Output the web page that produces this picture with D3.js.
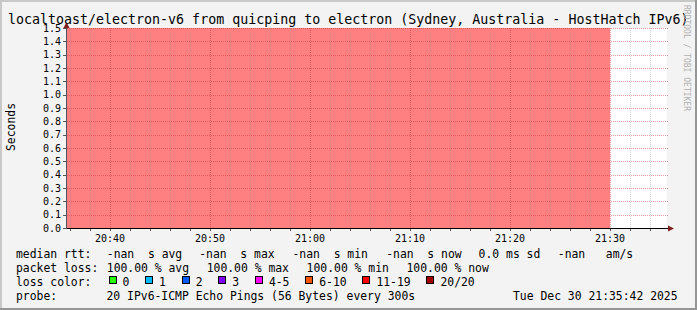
<!DOCTYPE html>
<html>
<head>
<meta charset="utf-8">
<script src="https://cdn.jsdelivr.net/npm/d3@7"></script>
<style>
body { margin: 0; background: #fff; }
text { font-family: "DejaVu Sans Mono", monospace; fill: #000; }
</style>
</head>
<body>
<div class="smoke-plot"></div>
<script>
// chart values
const title = "localtoast/electron-v6 from quicping to electron (Sydney, Australia - HostHatch IPv6)";
const yTitle = "Seconds";
const stepStarts = ["20:35", "20:40", "20:45", "20:50", "20:55", "21:00", "21:05", "21:10", "21:15", "21:20", "21:25"];
const lostPings = [20, 20, 20, 20, 20, 20, 20, 20, 20, 20, 20];
const pingsPerStep = 20;
const yTicks = [0, 0.1, 0.2, 0.3, 0.4, 0.5, 0.6, 0.7, 0.8, 0.9, 1.0, 1.1, 1.2, 1.3, 1.4, 1.5];
const xTickLabels = ["20:40", "20:50", "21:00", "21:10", "21:20", "21:30"];
const rttNames = ["avg", "max", "min", "now"];
const rttValues = ["-nan", "-nan", "-nan", "-nan"];
const rttSd = "0.0";
const rttAmS = "-nan";
const lossNames = ["avg", "max", "min", "now"];
const lossValues = [100.00, 100.00, 100.00, 100.00];
const lossLabels = ["0", "1", "2", "3", "4-5", "6-10", "11-19", "20/20"];
const lossColors = ["#26ff00", "#00b8ff", "#0059ff", "#7e00ff", "#ff00ff", "#ff5500", "#ff0000", "#a10000"];
const probeText = "20 IPv6-ICMP Echo Pings (56 Bytes) every 300s";
const stamp = "Tue Dec 30 21:35:42 2025";
const startTime = "20:35:42", endTime = "21:35:42";

const width = 697;
const height = 310;
const parseHM = d3.timeParse("%H:%M");
const parseHMS = d3.timeParse("%H:%M:%S");

const svg = d3.select('.smoke-plot')
    .append('svg')
    .attr('width', width)
    .attr('height', height);

// background + 3d frame
svg.append('rect').attr('width', width).attr('height', height).attr('fill', '#f3f3f3');
svg.append('path').attr('d', `M0,${height} V0 H${width}`).attr('fill', 'none')
    .attr('stroke', '#c8c8c8').attr('stroke-width', 4);
svg.append('path').attr('d', `M0,${height} H${width} V0`).attr('fill', 'none')
    .attr('stroke', '#969696').attr('stroke-width', 4);

const x = d3.scaleTime()
    .domain([parseHMS(startTime), parseHMS(endTime)])
    .range([67, 667]);
const y = d3.scaleLinear()
    .domain([0, 1.5])
    .range([228, 28]);

const px = v => Math.round(v) + 0.5;

// canvas
svg.append('rect').attr('x', 67).attr('y', 28).attr('width', 600).attr('height', 200).attr('fill', '#fff');

svg.append('clipPath').attr('id', 'plotclip')
    .append('rect').attr('x', 67).attr('y', 28).attr('width', 600).attr('height', 200);

// loss steps
const steps = stepStarts.map(function(s, i) {
    const t0 = parseHM(s);
    return {t0: t0, t1: d3.timeMinute.offset(t0, 5), lost: lostPings[i]};
});
svg.append('g').attr('clip-path', 'url(#plotclip)')
    .selectAll('rect')
    .data(steps.filter(d => d.lost == pingsPerStep))
    .enter()
    .append('rect')
    .attr('x', d => x(d.t0))
    .attr('width', d => x(d.t1) - x(d.t0))
    .attr('y', y(1.5))
    .attr('height', y(0) - y(1.5))
    .attr('fill', '#ff8080')
    .attr('shape-rendering', 'crispEdges');

// grid
const minorTimes = d3.timeMinute.every(2).range(x.domain()[0], x.domain()[1]);
const grid = svg.append('g').attr('stroke-dasharray', '1,1').attr('stroke-width', 1);
grid.selectAll('.minor')
    .data(minorTimes.filter(t => t.getMinutes() % 10 != 0))
    .enter().append('line')
    .attr('x1', d => px(x(d))).attr('x2', d => px(x(d)))
    .attr('y1', 28).attr('y2', 228)
    .attr('stroke', 'rgba(140,140,140,0.4)');
grid.selectAll('.major')
    .data(xTickLabels.map(parseHM))
    .enter().append('line')
    .attr('x1', d => px(x(d))).attr('x2', d => px(x(d)))
    .attr('y1', 28).attr('y2', 228)
    .attr('stroke', 'rgba(200,40,40,0.45)');
grid.selectAll('.hz')
    .data(yTicks.slice(1))
    .enter().append('line')
    .attr('x1', 67).attr('x2', 669)
    .attr('y1', d => px(y(d))).attr('y2', d => px(y(d)))
    .attr('stroke', 'rgba(200,40,40,0.45)');

// axes
svg.append('line').attr('x1', 67).attr('x2', 669).attr('y1', 228.5).attr('y2', 228.5)
    .attr('stroke', '#000');
svg.append('line').attr('x1', 66.5).attr('x2', 66.5).attr('y1', 229).attr('y2', 25)
    .attr('stroke', '#555');
svg.append('path').attr('d', 'M668,225.5 L674,228.5 L668,231.5 Z').attr('fill', '#7f1f1f');
svg.append('path').attr('d', 'M63.5,28 L66.5,22 L69.5,28 Z').attr('fill', '#7f1f1f');

// ticks
svg.append('g').selectAll('line')
    .data(minorTimes)
    .enter().append('line')
    .attr('x1', d => px(x(d))).attr('x2', d => px(x(d)))
    .attr('y1', 229).attr('y2', 231)
    .attr('stroke', '#555');
svg.append('g').selectAll('line')
    .data(yTicks)
    .enter().append('line')
    .attr('x1', 63).attr('x2', 67)
    .attr('y1', d => px(y(d))).attr('y2', d => px(y(d)))
    .attr('stroke', '#555');

// tick labels
svg.append('g').selectAll('text')
    .data(yTicks)
    .enter().append('text')
    .attr('x', 61)
    .attr('y', d => y(d) + 3.8)
    .attr('text-anchor', 'end')
    .attr('font-size', '10px')
    .text(d => d.toFixed(1));
svg.append('g').selectAll('text')
    .data(xTickLabels)
    .enter().append('text')
    .attr('x', d => x(parseHM(d)))
    .attr('y', 241.5)
    .attr('text-anchor', 'middle')
    .attr('font-size', '10px')
    .text(d => d);

// titles
svg.append('text').attr('x', 8).attr('y', 24).attr('font-size', '13.3px').text(title);
svg.append('text')
    .attr('transform', 'translate(14.5,127) rotate(-90)')
    .attr('text-anchor', 'middle')
    .attr('font-size', '11.4px')
    .text(yTitle);
svg.append('text')
    .attr('transform', 'translate(684,5) rotate(90)')
    .attr('font-size', '8px')
    .style('fill', '#b0b0b0')
    .text("RRDTOOL / TOBI OETIKER");

// legend
const lg = svg.append('g').attr('font-size', '11.4px');
const rowY = [258, 272, 285.7, 299.5];
lg.append('text').attr('x', 16).attr('y', rowY[0]).text("median rtt:");
const rttX = [106.8, 199.2, 292.5, 386.2];
lg.selectAll('.rtt').data(rttValues).enter().append('text')
    .attr('x', (d, i) => rttX[i]).attr('y', rowY[0])
    .style('white-space', 'pre')
    .text((d, i) => d + "  s " + rttNames[i]);
lg.append('text').attr('x', 478.6).attr('y', rowY[0]).style('white-space', 'pre').text(rttSd + " ms sd");
lg.append('text').attr('x', 557.8).attr('y', rowY[0]).style('white-space', 'pre').text(rttAmS + "   am/s");

lg.append('text').attr('x', 16).attr('y', rowY[1]).text("packet loss:");
lg.selectAll('.loss').data(lossValues).enter().append('text')
    .attr('x', (d, i) => 106.8 + i * 99.9).attr('y', rowY[1])
    .style('white-space', 'pre')
    .text((d, i) => d.toFixed(2) + " % " + lossNames[i]);

lg.append('text').attr('x', 16).attr('y', rowY[2]).text("loss color:");
const boxX = [];
let bx = 108.5;
lossLabels.forEach(function(l) { boxX.push(bx); bx += 36.6 + (l.length - 1) * 6.86; });
const items = lg.selectAll('.lc').data(lossLabels).enter().append('g');
items.append('rect')
    .attr('x', (d, i) => Math.round(boxX[i]) + 0.5).attr('y', 276.5)
    .attr('width', 7).attr('height', 7)
    .attr('fill', (d, i) => lossColors[i])
    .attr('stroke', '#000');
items.append('text')
    .attr('x', (d, i) => boxX[i] + 14)
    .attr('y', rowY[2])
    .text(d => d);

lg.append('text').attr('x', 16).attr('y', rowY[3]).text("probe:");
lg.append('text').attr('x', 106.5).attr('y', rowY[3]).text(probeText);
lg.append('text').attr('x', 513).attr('y', rowY[3]).text(stamp);
</script>
</body>
</html>
